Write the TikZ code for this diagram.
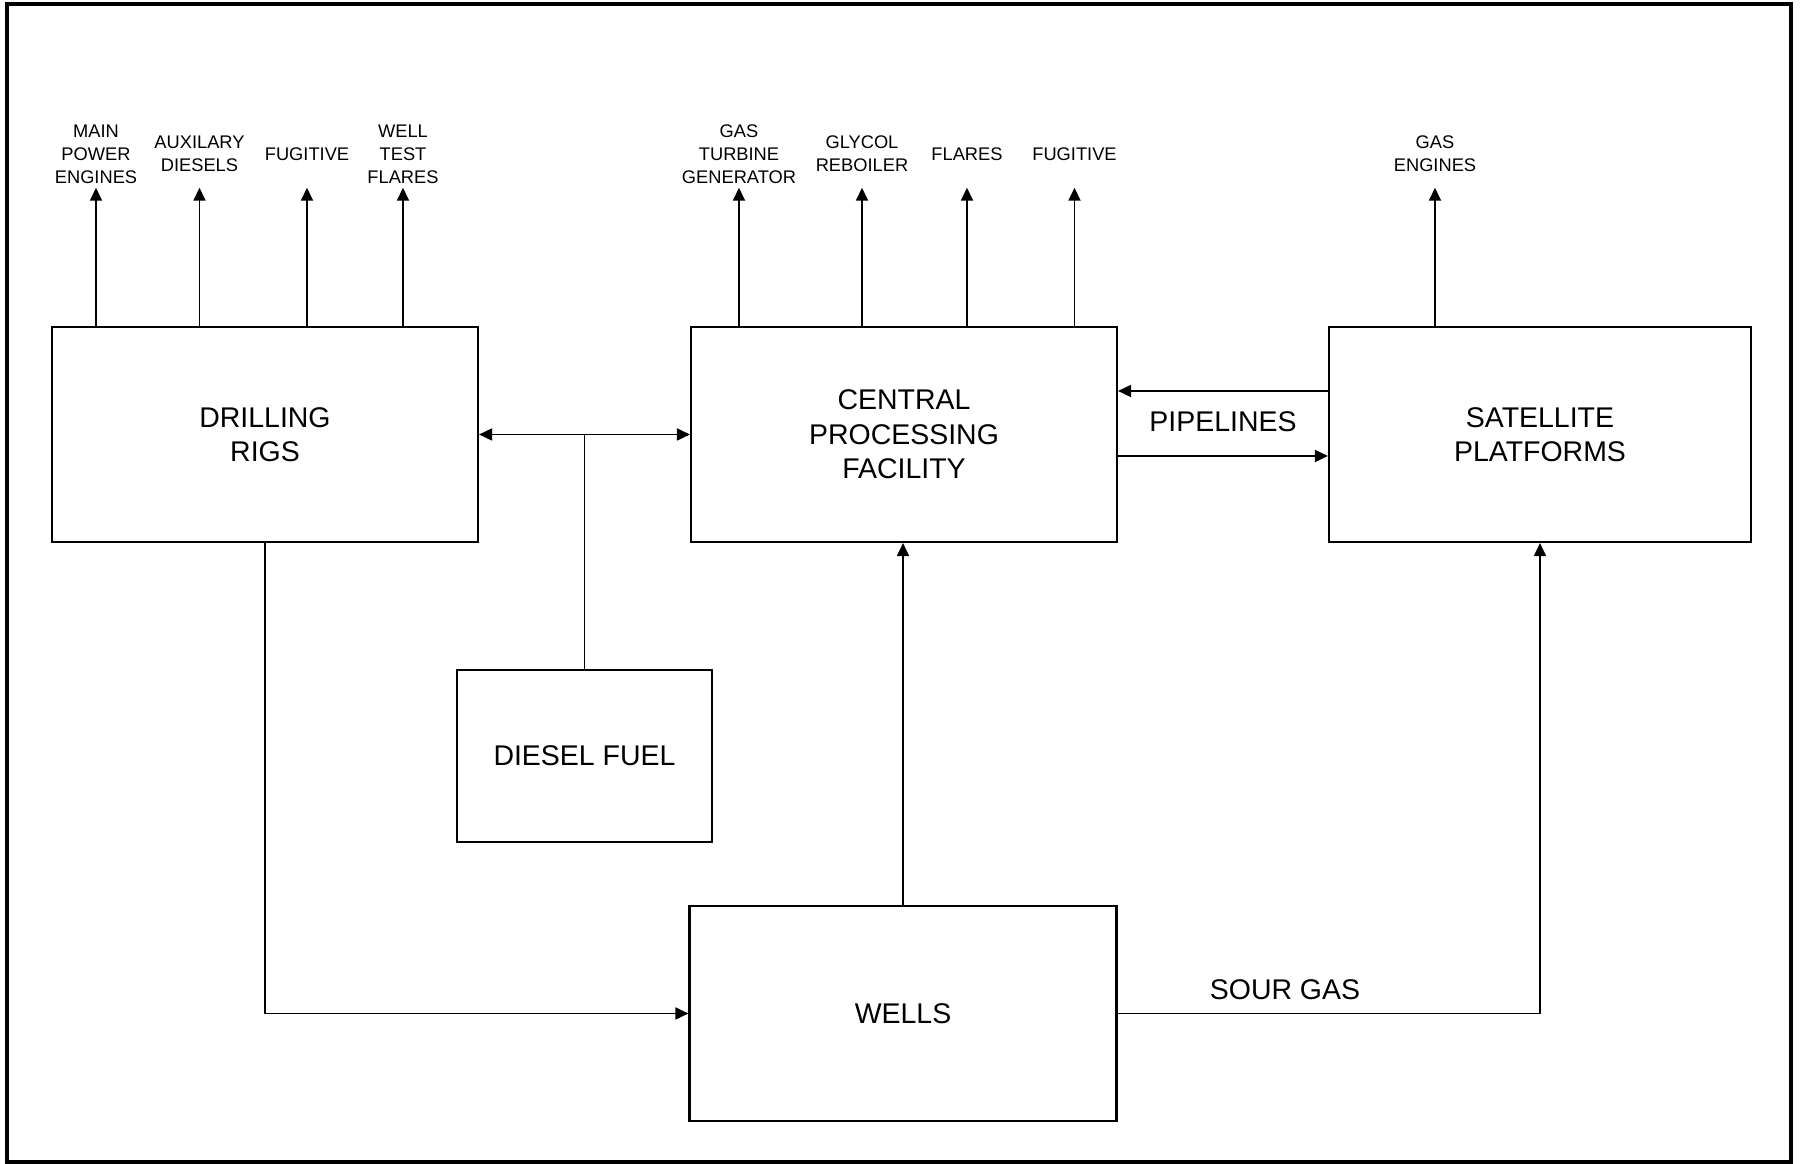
\documentclass[tikz,border=0pt]{standalone}
\usepackage{fontspec}
\setmainfont{Liberation Sans}
\usetikzlibrary{arrows.meta}

\begin{document}
\begin{tikzpicture}[
    >={Triangle[length=3.7pt,width=3.4pt]},
    unit/.style={draw, line width=0.6pt, font=\fontsize{8.1}{9.8}\selectfont, align=center, inner sep=0pt},
    emit/.style={font=\fontsize{5.2}{6.5}\selectfont, align=center, inner sep=0pt, minimum height=0.66cm},
    flow/.style={line width=0.55pt}
]
    \useasboundingbox (0,0) rectangle (18.03,-11.64);
    \draw[line width=1.1pt] (0.07,-0.04) rectangle (17.91,-11.62);

    % Nodes
    \node[unit, minimum width=4.26cm, minimum height=2.15cm] (drill) at (2.65, -4.345) {DRILLING\\RIGS};
    \node[unit, minimum width=4.26cm, minimum height=2.15cm] (cpf) at (9.04, -4.345) {CENTRAL\\PROCESSING\\FACILITY};
    \node[unit, minimum width=4.22cm, minimum height=2.15cm] (sat) at (15.40, -4.345) {SATELLITE\\PLATFORMS};
    \node[unit, minimum width=2.55cm, minimum height=1.72cm] (diesel) at (5.845, -7.56) {DIESEL FUEL};
    \node[unit, minimum width=4.27cm, minimum height=2.15cm] (wells) at (9.03, -10.135) {WELLS};

    \node[emit] (mainpow) at (0.96, -1.54) {MAIN\\POWER\\ENGINES};
    \node[emit] (auxdies) at (1.995, -1.54) {AUXILARY\\DIESELS};
    \node[emit] (drillfug) at (3.07, -1.54) {FUGITIVE};
    \node[emit] (welltest) at (4.03, -1.54) {WELL\\TEST\\FLARES};

    \node[emit] (gasturb) at (7.39, -1.54) {GAS\\TURBINE\\GENERATOR};
    \node[emit] (glycol) at (8.62, -1.54) {GLYCOL\\REBOILER};
    \node[emit] (flares) at (9.67, -1.54) {FLARES};
    \node[emit] (cpffug) at (10.745, -1.54) {FUGITIVE};

    \node[emit] (gaseng) at (14.35, -1.54) {GAS\\ENGINES};

    \node[font=\fontsize{8.1}{9.8}\selectfont] (pipe) at (12.23, -4.22) {PIPELINES};
    \node[font=\fontsize{8.1}{9.8}\selectfont] (sour) at (12.85, -9.90) {SOUR GAS};

    % Arrows
    \foreach \src/\dst in {drill/mainpow, drill/auxdies, drill/drillfug, drill/welltest,
                           cpf/gasturb, cpf/glycol, cpf/flares, cpf/cpffug, sat/gaseng}
        \draw[flow, ->] (\src.north -| \dst) -- (\dst.south);

    \draw[flow, <->] (drill.east) -- (cpf.west);
    \draw[flow] (diesel.north) -- (diesel.north |- drill.east);
    \draw[flow, ->] ([yshift=4.35mm]sat.west) -- ([yshift=4.35mm]cpf.east);
    \draw[flow, ->] ([yshift=-2.15mm]cpf.east) -- ([yshift=-2.15mm]sat.west);
    \draw[flow, ->] (wells.north) -- (wells.north |- cpf.south);
    \draw[flow, ->] (drill.south) |- (wells.west);
    \draw[flow, ->] (wells.east) -| (sat.south);
\end{tikzpicture}
\end{document}
